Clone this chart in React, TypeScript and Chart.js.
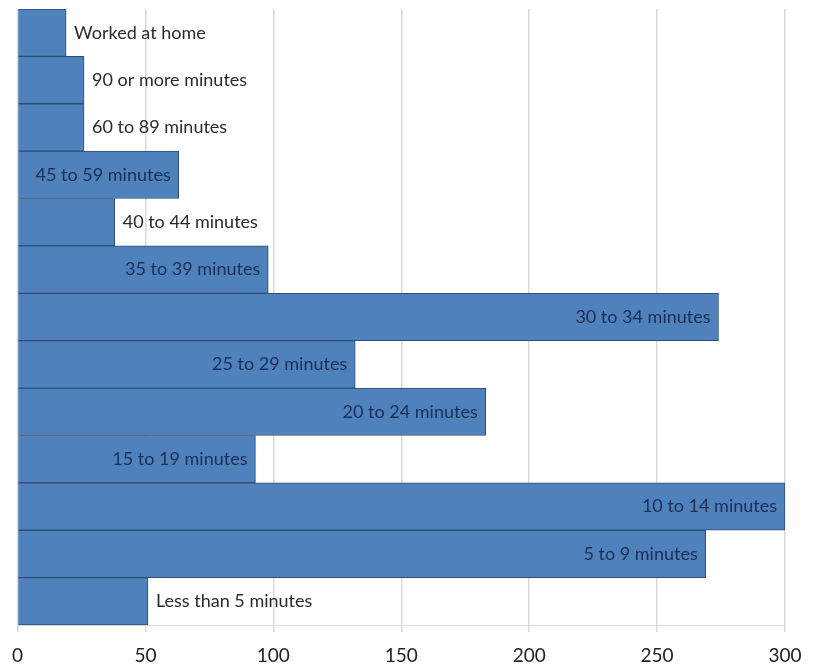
import React, { useEffect, useRef } from "react";
import { Chart, registerables } from "chart.js";

Chart.register(...registerables);

const categories = [
  "Worked at home",
  "90 or more minutes",
  "60 to 89 minutes",
  "45 to 59 minutes",
  "40 to 44 minutes",
  "35 to 39 minutes",
  "30 to 34 minutes",
  "25 to 29 minutes",
  "20 to 24 minutes",
  "15 to 19 minutes",
  "10 to 14 minutes",
  "5 to 9 minutes",
  "Less than 5 minutes",
];
const values = [19, 26, 26, 63, 38, 98, 274, 132, 183, 93, 300, 269, 51];
const xTicks = [0, 50, 100, 150, 200, 250, 300];

const FONT = "Lato, 'Open Sans', sans-serif";

const labelPlugin = {
  id: "barLabels",
  afterDatasetsDraw(chart: any) {
    const ctx = chart.ctx;
    const meta = chart.getDatasetMeta(0);
    ctx.save();
    ctx.font = `18px ${FONT}`;
    ctx.textBaseline = "middle";
    meta.data.forEach((bar: any, i: number) => {
      const label = categories[i];
      const w = ctx.measureText(label).width;
      const left = bar.base;
      const right = bar.x;
      if (w + 16 < right - left) {
        ctx.textAlign = "right";
        ctx.fillStyle = "#1c2f55";
        ctx.fillText(label, right - 8, bar.y);
      } else {
        ctx.textAlign = "left";
        ctx.fillStyle = "#2a2a2a";
        ctx.fillText(label, right + 8, bar.y);
      }
    });
    ctx.restore();
  },
};

export default function App() {
  const ref = useRef<HTMLCanvasElement>(null);
  useEffect(() => {
    if (!ref.current) return;
    const chart = new Chart(ref.current, {
      type: "bar",
      data: {
        labels: categories,
        datasets: [
          {
            data: values,
            backgroundColor: "#4f81bd",
            borderColor: "#2c4d75",
            borderWidth: 1,
            categoryPercentage: 1,
            barPercentage: 1,
          },
        ],
      },
      options: {
        indexAxis: "y",
        animation: false,
        responsive: false,
        maintainAspectRatio: false,
        layout: { padding: { left: 16, right: 29, top: 9, bottom: 0 } },
        plugins: { legend: { display: false }, tooltip: { enabled: false } },
        scales: {
          y: { display: false },
          x: {
            min: 0,
            max: 300,
            afterBuildTicks: (s: any) => {
              s.ticks = xTicks.map((v) => ({ value: v }));
            },
            afterFit: (s: any) => {
              s.height = 45;
            },
            grid: {
              color: "#d9d9d9",
              lineWidth: 1.5,
              tickLength: 7,
              drawTicks: true,
            },
            border: { display: true, color: "#d9d9d9" },
            ticks: {
              color: "#222",
              padding: 12,
              font: { family: FONT, size: 19 },
              maxRotation: 0,
            },
          },
        },
      },
      plugins: [labelPlugin],
    });
    return () => chart.destroy();
  }, []);
  return (
    <div style={{ position: "absolute", left: 0, top: 0, width: 814, height: 670, background: "#fff" }}>
      <canvas ref={ref} width={814} height={670} />
    </div>
  );
}
